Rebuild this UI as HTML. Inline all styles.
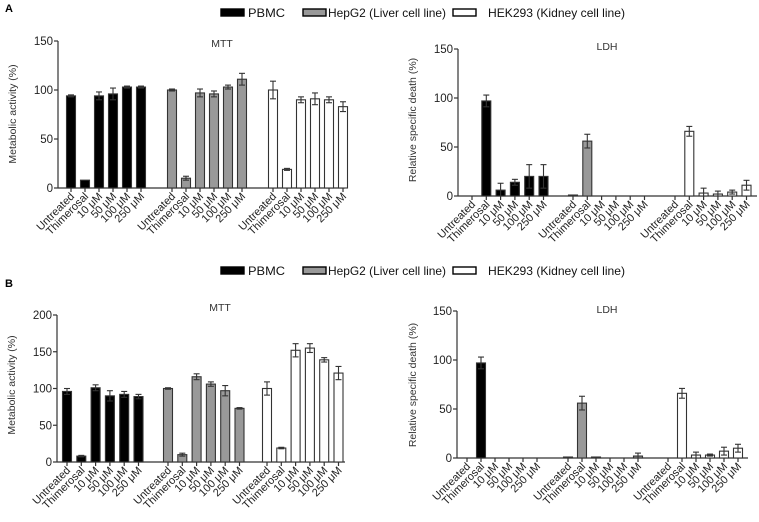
<!DOCTYPE html>
<html><head><meta charset="utf-8"><style>
body{margin:0;background:#fff;width:759px;height:517px;overflow:hidden}
svg{font-family:"Liberation Sans",Arial,sans-serif}
</style></head><body>
<svg id="fig" width="759" height="517"></svg>
<script>
const categories=["Untreated","Thimerosal","10 μM","50 μM","100 μM","250 μM"];
const seriesNames=["PBMC","HepG2 (Liver cell line)","HEK293 (Kidney cell line)"];
const aMttVals=[[94,8,94,96,103,103],[100,10,97,96,103,111],[100,19,90,91,90,83]];
const aMttErr=[[1,0,4,6,1,1],[1,2,4,3,2,6],[9,1,3,6,3,5]];
const aLdhVals=[[0,97,6,14,20,20],[1,56,0,0,0,0],[0,66,3,2,4,11]];
const aLdhErr=[[0,6,7,3,12,12],[0,7,0,0,0,0],[0,5,5,3,2,5]];
const bMttVals=[[96,8,101,90,92,89],[100,10,116,106,97,73],[100,19,152,155,139,121]];
const bMttErr=[[4,1,4,7,4,3],[1,2,4,3,7,1],[9,1,9,6,3,9]];
const bLdhVals=[[0,97,0,0,0,0],[1,56,1,0,0,2],[0,66,3,3,7,10]];
const bLdhErr=[[0,6,0,0,0,0],[0,7,0,0,0,3],[0,5,3,1,4,4]];
const mttTicks150=[0,50,100,150];
const mttTicks200=[0,50,100,150,200];
const ldhTicks=[0,50,100,150];
const fills=["#000","#999","#fff"];
const NS="http://www.w3.org/2000/svg";
const svg=document.getElementById('fig');
function el(t,a,p){const e=document.createElementNS(NS,t);for(const k in a)e.setAttribute(k,a[k]);(p||svg).appendChild(e);return e;}
function txt(s,a,p){const e=el('text',a,p);e.textContent=s;return e;}

function chart(o){
  const g=el('g',{});
  
  
  const yMax=o.ticks[o.ticks.length-1];
  const ys=v=>o.y0-(o.y0-o.yTop)*v/yMax;
  const xs=(gi,ci)=>o.gStart[gi]+ci*o.step;
  const ya=el('line',{x1:o.ax,y1:o.yTop,x2:o.ax,y2:o.y0,stroke:'#333','stroke-width':1.2},g);
  
  const xa=el('line',{x1:o.ax,y1:o.y0,x2:o.axEnd,y2:o.y0,stroke:'#333','stroke-width':1.2},g);
  
  o.ticks.forEach(t=>{
    el('line',{x1:o.ax-4,y1:ys(t),x2:o.ax,y2:ys(t),stroke:'#333','stroke-width':1.2},g);
    const l=txt(String(t),{x:o.ax-5,y:ys(t)+4,'font-size':11.5,'text-anchor':'end',fill:'#222'},g);
    
  });
  const yt=txt(o.ytitle,{x:0,y:0,'font-size':10.5,'text-anchor':'middle',fill:'#333',transform:`translate(${o.ytx},${o.yty}) rotate(-90)`},g);
  
  const tt=txt(o.title,{x:o.tx,y:o.ty,'font-size':10.5,'text-anchor':'middle',fill:'#333'},g);
  
  for(let gi=0;gi<3;gi++){
    for(let ci=0;ci<6;ci++){
      const cx=xs(gi,ci),v=o.vals[gi][ci],e=o.err[gi][ci];
      el('line',{x1:cx,y1:o.y0,x2:cx,y2:o.y0+4,stroke:'#333','stroke-width':1.2},g);
      if(v>0){
        const r=el('rect',{x:cx-4.5,y:ys(v),width:9,height:o.y0-ys(v),fill:fills[gi],stroke:'#333','stroke-width':1.1},g);
        
      }
      if(e>0){
        el('line',{x1:cx,y1:ys(v+e),x2:cx,y2:ys(Math.max(v-e,0)),stroke:'#333','stroke-width':1.1},g);
        el('line',{x1:cx-3,y1:ys(v+e),x2:cx+3,y2:ys(v+e),stroke:'#333','stroke-width':1.1},g);
        if(v-e>0)el('line',{x1:cx-3,y1:ys(v-e),x2:cx+3,y2:ys(v-e),stroke:'#333','stroke-width':1.1},g);
      }
      const lab=txt(categories[ci],{x:0,y:0,'font-size':11,'text-anchor':'end',fill:'#222',transform:`translate(${cx+4},${o.y0+9}) rotate(-45)`},g);
      
    }
  }
}
function legend(y){
  const g=el('g',{});
  
  
  const xsq=[221,303,453],xt=[248,328,488];
  for(let i=0;i<3;i++){
    const s=el('rect',{x:xsq[i],y:y-4,width:23,height:7,fill:fills[i],stroke:'#000','stroke-width':1.4},g);
    
    const t=txt(seriesNames[i],{x:xt[i],y:y+4,'font-size':12,fill:'#111',textLength:[37,118,137][i],lengthAdjust:'spacingAndGlyphs'},g);
    
  }
}
legend(13);
legend(271);
const la=txt('A',{x:5,y:12,'font-size':11,'font-weight':'bold'});
const lb=txt('B',{x:5,y:287,'font-size':11,'font-weight':'bold'});
chart({name:'a-mtt-chart',ax:58,axEnd:345,yTop:41,y0:188,ticks:mttTicks150,gStart:[71,172,273],step:14,vals:aMttVals,err:aMttErr,title:'MTT',tx:222,ty:47,ytitle:'Metabolic activity (%)',ytx:16,yty:114});
chart({name:'a-ldh-chart',ax:458,axEnd:757,yTop:49,y0:196,ticks:ldhTicks,gStart:[472,573,675],step:14.3,vals:aLdhVals,err:aLdhErr,title:'LDH',tx:607,ty:50,ytitle:'Relative specific death (%)',ytx:416,yty:120});
chart({name:'b-mtt-chart',ax:57,axEnd:345,yTop:315,y0:462,ticks:mttTicks200,gStart:[67,168,267],step:14.3,vals:bMttVals,err:bMttErr,title:'MTT',tx:220,ty:311,ytitle:'Metabolic activity (%)',ytx:15,yty:385});
chart({name:'b-ldh-chart',ax:457,axEnd:748,yTop:311,y0:458,ticks:ldhTicks,gStart:[467,568,668],step:14,vals:bLdhVals,err:bLdhErr,title:'LDH',tx:607,ty:313,ytitle:'Relative specific death (%)',ytx:416,yty:385});
</script>
</body></html>
